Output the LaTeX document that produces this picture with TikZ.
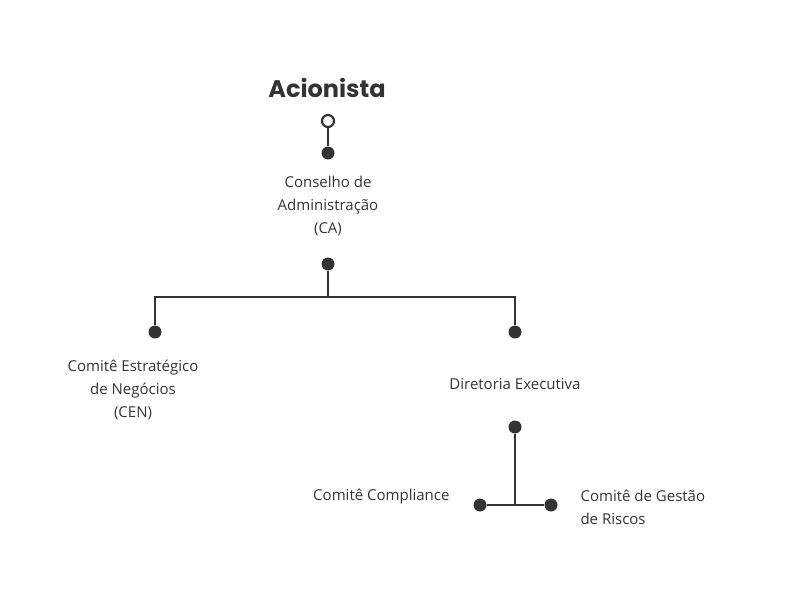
\documentclass[tikz,border=0pt]{standalone}
\usepackage{fontspec}
\setmainfont{Open Sans}
\newfontfamily\titlefont{Poppins}
\definecolor{ink}{HTML}{333333}
\begin{document}
\begin{tikzpicture}[x=1pt,y=-1pt,
  dot/.style={circle,fill=ink,inner sep=0pt,minimum size=13pt},
  odot/.style={circle,draw=ink,line width=2.2pt,fill=white,inner sep=0pt,minimum size=12pt},
  lbl/.style={text=ink,font=\fontsize{15}{23}\selectfont,align=center},
  ln/.style={draw=ink,line width=2.5pt}]
\useasboundingbox (0,0) rectangle (800,600);
\node[text=ink,font=\titlefont\bfseries\fontsize{24}{28}\selectfont] (t) at (327,88) {Acionista};
\node[odot] (o) at (328,121) {};
\node[dot] (d1) at (328,153) {};
\draw[ln] (o) -- (d1);
\node[lbl] (ca) at (328,206) {Conselho de\\Administração\\(CA)};
\node[dot] (d2) at (328,264) {};
\coordinate (h) at (328,297);
\node[dot] (dl) at (155,332) {};
\node[dot] (dr) at (515,332) {};
\draw[ln] (d2) -- (h);
\draw[ln] (dl) -- (155,297) -- (515,297) -- (dr);
\node[lbl] (cen) at (133,390) {Comitê Estratégico\\de Negócios\\(CEN)};
\node[lbl] (de) at (515,384) {Diretoria Executiva};
\node[dot] (d3) at (515,427) {};
\coordinate (b) at (515,504);
\node[dot] (d4) at (480,505) {};
\node[dot] (d5) at (551,505) {};
\draw[ln] (d3) -- (b);
\draw[ln] (d4) -- (d5);
\node[lbl,anchor=east] (cc) at (453,497) {Comitê Compliance};
\node[lbl,anchor=north west,align=left] (cg) at (577,486) {Comitê de Gestão\\de Riscos};
\end{tikzpicture}
\end{document}
